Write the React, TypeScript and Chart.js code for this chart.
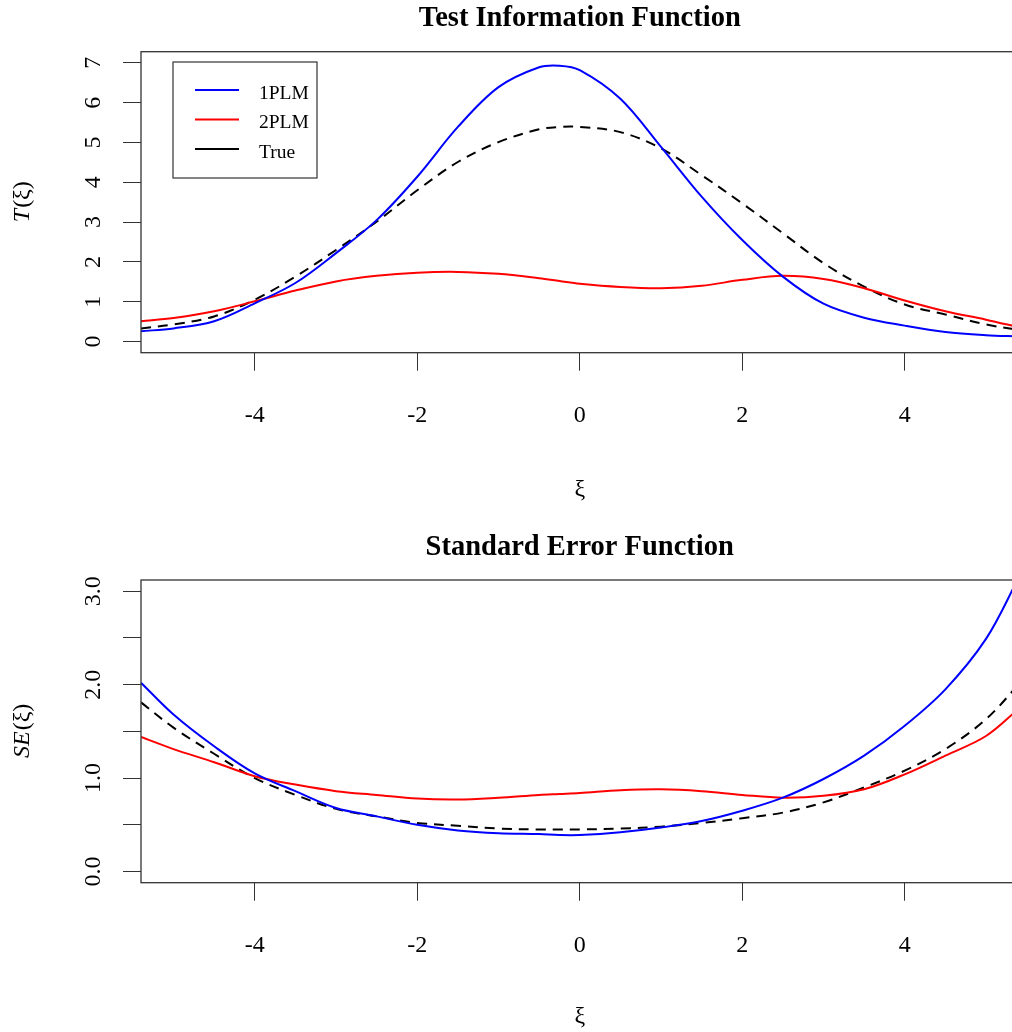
import React, { useEffect, useRef } from "react";
import { Chart, registerables } from "chart.js";

Chart.register(...registerables);

// ---------- data ----------
const xiValues = [-5.4, -5, -4.5, -4, -3.5, -3, -2.5, -2, -1.5, -1, -0.5, -0.25, 0, 0.5, 1, 1.5, 2, 2.5, 3, 3.5, 4, 4.5, 5, 5.4];

const info1PLM = [0.26, 0.33, 0.51, 0.96, 1.47, 2.22, 3.05, 4.14, 5.39, 6.39, 6.89, 6.93, 6.82, 6.10, 4.89, 3.64, 2.55, 1.63, 0.95, 0.60, 0.40, 0.24, 0.16, 0.13];
const info2PLM = [0.51, 0.59, 0.76, 1.01, 1.28, 1.51, 1.65, 1.73, 1.75, 1.70, 1.59, 1.52, 1.45, 1.37, 1.34, 1.40, 1.55, 1.65, 1.57, 1.34, 1.03, 0.76, 0.55, 0.36];
const infoTrue = [0.33, 0.43, 0.63, 1.05, 1.63, 2.30, 3.01, 3.80, 4.51, 5.01, 5.33, 5.39, 5.39, 5.26, 4.85, 4.18, 3.47, 2.72, 1.97, 1.38, 0.93, 0.68, 0.43, 0.29];

const se1PLM = [2.02, 1.68, 1.34, 1.05, 0.86, 0.68, 0.59, 0.50, 0.44, 0.41, 0.40, 0.39, 0.39, 0.42, 0.47, 0.54, 0.65, 0.79, 0.99, 1.24, 1.56, 1.95, 2.49, 3.14];
const se2PLM = [1.44, 1.31, 1.17, 1.02, 0.93, 0.86, 0.82, 0.78, 0.77, 0.79, 0.82, 0.83, 0.84, 0.87, 0.88, 0.86, 0.82, 0.79, 0.81, 0.88, 1.04, 1.24, 1.45, 1.74];
const seTrue = [1.81, 1.54, 1.26, 1.00, 0.82, 0.67, 0.59, 0.52, 0.49, 0.46, 0.45, 0.45, 0.45, 0.46, 0.48, 0.52, 0.57, 0.63, 0.74, 0.90, 1.08, 1.31, 1.63, 2.00];

const seriesNames = ["1PLM", "2PLM", "True"];
const xTicks = [-4, -2, 0, 2, 4];
const infoYTicks = [0, 1, 2, 3, 4, 5, 6, 7];
const infoYLabels = [0, 1, 2, 3, 4, 5, 6, 7];
const seYTicks = [0, 0.5, 1, 1.5, 2, 2.5, 3];
const seYLabels = [0, 1, 2, 3];

// ---------- styles ----------
const FONT = '"Liberation Serif", "Times New Roman", Times, serif';
const seriesColors = ["#0000FF", "#FF0000", "#000000"];
const seriesDash = [[], [], [10, 7]];
const AXIS_COLOR = "#333333";
const CANVAS_W = 1030;
const CANVAS_H = 516;

type PanelSpec = {
  title: string;
  titleBaseline: number;
  yTitleItalic: string;
  series: number[][];
  yMin: number;
  yMax: number;
  yTicks: number[];
  yLabels: number[];
  yFmt: (v: number) => string;
  top: number;
  xAxisHeight: number;
  xTitleY: number;
  legend: boolean;
};

function makeDecorPlugin(spec: PanelSpec) {
  return {
    id: "decor",
    afterDraw(chart: any) {
      const ctx = chart.ctx as CanvasRenderingContext2D;
      const a = chart.chartArea;
      const ys = chart.scales.y;
      const cx = (a.left + a.right) / 2;
      ctx.save();
      // plot box
      ctx.strokeStyle = AXIS_COLOR;
      ctx.lineWidth = 1.3;
      ctx.setLineDash([]);
      ctx.strokeRect(a.left, a.top, a.right - a.left, a.bottom - a.top);

      // title
      ctx.fillStyle = "#000";
      ctx.font = `bold 28.5px ${FONT}`;
      ctx.textAlign = "center";
      ctx.textBaseline = "alphabetic";
      ctx.fillText(spec.title, cx, spec.titleBaseline);

      // y tick labels (rotated, as in R)
      ctx.font = `24px ${FONT}`;
      for (const v of spec.yLabels) {
        const py = ys.getPixelForValue(v);
        ctx.save();
        ctx.translate(93.5, py);
        ctx.rotate(-Math.PI / 2);
        ctx.textAlign = "center";
        ctx.textBaseline = "middle";
        ctx.fillText(spec.yFmt(v), 0, 0);
        ctx.restore();
      }

      // y title: italic part + (ξ)
      const cy = (a.top + a.bottom) / 2;
      ctx.save();
      ctx.translate(23, cy);
      ctx.rotate(-Math.PI / 2);
      ctx.textBaseline = "middle";
      ctx.textAlign = "left";
      const italicFont = `italic 24px ${FONT}`;
      const normalFont = `24px ${FONT}`;
      ctx.font = italicFont;
      const w1 = ctx.measureText(spec.yTitleItalic).width;
      ctx.font = normalFont;
      const rest = "(ξ)";
      const w2 = ctx.measureText(rest).width;
      const start = -(w1 + w2) / 2;
      ctx.font = italicFont;
      ctx.fillText(spec.yTitleItalic, start, 0);
      ctx.font = normalFont;
      ctx.fillText(rest, start + w1 + 1, 0);
      ctx.restore();

      // x title
      ctx.font = `24px ${FONT}`;
      ctx.textAlign = "center";
      ctx.textBaseline = "middle";
      ctx.fillText("ξ", cx, spec.xTitleY);

      // legend
      if (spec.legend) {
        ctx.strokeStyle = AXIS_COLOR;
        ctx.lineWidth = 1.2;
        ctx.strokeRect(173, 62, 144, 116);
        const rows = [90, 119.5, 149];
        chart.data.datasets.forEach((ds: any, i: number) => {
          const y = rows[i];
          ctx.beginPath();
          ctx.strokeStyle = ds.borderColor;
          ctx.lineWidth = 2;
          ctx.setLineDash([]);
          ctx.moveTo(195, y);
          ctx.lineTo(239, y);
          ctx.stroke();
          ctx.fillStyle = "#000";
          ctx.font = `19.5px ${FONT}`;
          ctx.textAlign = "left";
          ctx.textBaseline = "alphabetic";
          ctx.fillText(ds.label, 259, y + 8.5);
        });
      }
      ctx.restore();
    },
  };
}

function buildConfig(spec: PanelSpec): any {
  const gridOpts = {
    display: true,
    drawOnChartArea: false,
    drawTicks: true,
    tickLength: 18,
    color: AXIS_COLOR,
    lineWidth: 1,
  };
  return {
    type: "line",
    data: {
      datasets: spec.series.map((vals, i) => ({
        label: seriesNames[i],
        data: xiValues.map((x, j) => ({ x, y: vals[j] })),
        borderColor: seriesColors[i],
        backgroundColor: seriesColors[i],
        borderWidth: 2,
        borderDash: seriesDash[i],
        pointRadius: 0,
        fill: false,
        tension: 0.35,
      })),
    },
    options: {
      responsive: false,
      animation: false,
      layout: { padding: { left: 0, top: spec.top, right: CANVAS_W - 1018.5, bottom: 0 } },
      plugins: { legend: { display: false }, title: { display: false }, tooltip: { enabled: false } },
      scales: {
        x: {
          type: "linear",
          min: -5.4,
          max: 5.4,
          afterBuildTicks: (s: any) => {
            s.ticks = xTicks.map((v) => ({ value: v }));
          },
          afterFit: (s: any) => {
            s.height = spec.xAxisHeight;
          },
          grid: gridOpts,
          border: { display: false },
          ticks: {
            color: "#000",
            font: { family: FONT, size: 24 },
            padding: 31,
            maxRotation: 0,
            minRotation: 0,
            autoSkip: false,
            callback: (v: any) => String(v),
          },
        },
        y: {
          type: "linear",
          min: spec.yMin,
          max: spec.yMax,
          afterBuildTicks: (s: any) => {
            s.ticks = spec.yTicks.map((v) => ({ value: v }));
          },
          afterFit: (s: any) => {
            s.width = 141;
          },
          grid: gridOpts,
          border: { display: false },
          ticks: { display: false },
        },
      },
    },
    plugins: [makeDecorPlugin(spec)],
  };
}

const topSpec: PanelSpec = {
  title: "Test Information Function",
  titleBaseline: 26,
  yTitleItalic: "T",
  series: [info1PLM, info2PLM, infoTrue],
  yMin: -0.28,
  yMax: 7.28,
  yTicks: infoYTicks,
  yLabels: infoYLabels,
  yFmt: (v) => String(v),
  top: 51.7,
  xAxisHeight: CANVAS_H - 352.7,
  xTitleY: 490,
  legend: true,
};

const bottomSpec: PanelSpec = {
  title: "Standard Error Function",
  titleBaseline: 39,
  yTitleItalic: "SE",
  series: [se1PLM, se2PLM, seTrue],
  yMin: -0.12,
  yMax: 3.12,
  yTicks: seYTicks,
  yLabels: seYLabels,
  yFmt: (v) => v.toFixed(1),
  top: 64,
  xAxisHeight: CANVAS_H - 366.7,
  xTitleY: 501,
  legend: false,
};

function Panel({ spec, top }: { spec: PanelSpec; top: number }) {
  const ref = useRef<HTMLCanvasElement | null>(null);
  useEffect(() => {
    if (!ref.current) return;
    const chart = new Chart(ref.current, buildConfig(spec));
    return () => chart.destroy();
  }, [spec]);
  return (
    <canvas
      ref={ref}
      width={CANVAS_W}
      height={CANVAS_H}
      style={{ position: "absolute", left: 0, top, width: CANVAS_W, height: CANVAS_H, display: "block" }}
    />
  );
}

export default function App() {
  return (
    <div
      style={{
        position: "absolute",
        left: 0,
        top: 0,
        width: 1012,
        height: 1032,
        overflow: "hidden",
        background: "#ffffff",
      }}
    >
      <Panel spec={topSpec} top={0} />
      <Panel spec={bottomSpec} top={516} />
    </div>
  );
}
